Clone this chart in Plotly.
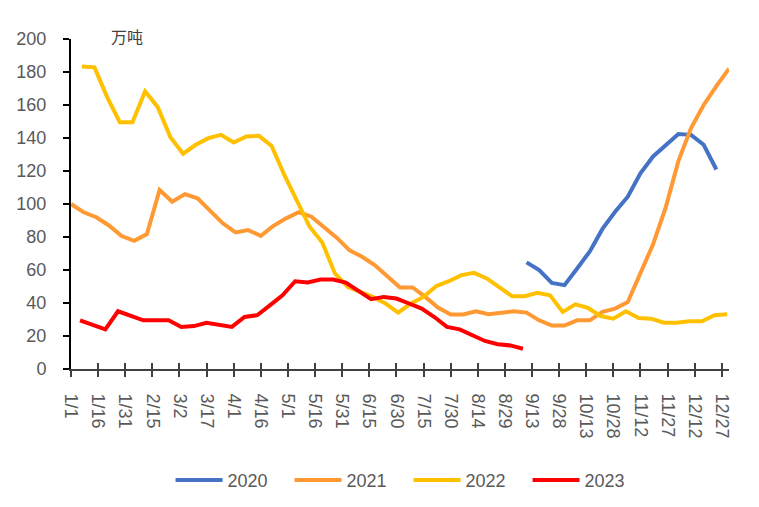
import pandas as pd
import plotly.graph_objects as go

# ---------------- data ----------------
TICK_LABELS = ["1/1", "1/16", "1/31", "2/15", "3/2", "3/17", "4/1", "4/16", "5/1",
               "5/16", "5/31", "6/15", "6/30", "7/15", "7/30", "8/14", "8/29",
               "9/13", "9/28", "10/13", "10/28", "11/12", "11/27", "12/12", "12/27"]

SERIES_NAMES = ["2020", "2021", "2022", "2023"]

# first weekly observation (month/day) of each series
START_2020 = "9/10"
START_2021 = "1/1"
START_2022 = "1/7"
START_2023 = "1/6"

VALUES_2020 = [64.6, 59.9, 52.2, 50.8, 60.9, 71.3, 84.9, 95.3, 104.4, 118.6,
               128.8, 135.9, 142.4, 141.9, 135.9, 120.9]

VALUES_2021 = [100, 95, 92, 87, 80.6, 77.7, 81.8, 108.5, 101.4, 106,
               103.5, 96, 88.3, 82.8, 84.2, 80.7, 86.8, 91.3, 95, 92.3,
               86.2, 79.6, 72, 68, 63, 56, 49.4, 49.4, 43.7, 37.2,
               33, 33, 35, 33.2, 34, 35, 34.2, 29.5, 26.3, 26.3,
               29.5, 29.5, 34.6, 36.6, 40.6, 58.4, 75.6, 98, 126, 146,
               160, 171.5, 182]

VALUES_2022 = [183.4, 182.8, 164.8, 149.6, 149.6, 168.3, 158.7, 140.5, 130.5, 135.9,
               139.9, 141.9, 137.3, 140.9, 141.3, 135.2, 117.6, 101.4, 86.2, 76.7,
               57.9, 49.8, 46.7, 43.7, 39.7, 34.2, 39.7, 43.7, 50.2, 53.2,
               56.9, 58.3, 54.9, 49.8, 44.1, 44.1, 46.2, 44.7, 34.6, 39.2,
               37, 32.1, 30.5, 35, 30.9, 30.5, 28.1, 28.1, 28.9, 28.9,
               32.6, 33.2]

VALUES_2023 = [29.5, 27, 24, 35, 32, 29.5, 29.5, 29.5, 25.5, 26,
               28, 27, 25.5, 31.5, 32.6, 38.6, 44.7, 53.2, 52.4, 54.2,
               54.2, 52.4, 47.3, 42.3, 43.7, 42.7, 39.7, 36.6, 31.5, 25.5,
               24, 20.8, 17, 15, 14.3, 12.3]

COLORS = ["#4472C4", "#FF9933", "#FFC000", "#FF0000"]

AXIS_YEAR = 2021  # common (non-leap) calendar used for the month/day axis


def md(s):
    return pd.Timestamp(f"{AXIS_YEAR}/{s}")


def weekly(start, values):
    return pd.date_range(md(start), periods=len(values), freq="7D")


series = [
    (SERIES_NAMES[0], START_2020, VALUES_2020),
    (SERIES_NAMES[1], START_2021, VALUES_2021),
    (SERIES_NAMES[2], START_2022, VALUES_2022),
    (SERIES_NAMES[3], START_2023, VALUES_2023),
]

tick_vals = [md(t) for t in TICK_LABELS]
x_range = [md("1/1"), md("12/31")]

fig = go.Figure()
for (name, start, vals), color in zip(series, COLORS):
    fig.add_trace(go.Scatter(
        x=weekly(start, vals), y=vals, name=name, mode="lines",
        line=dict(color=color, width=4),
        hoverinfo="x+y+name",
    ))

# helper (empty) trace so the overlaid axis carrying the inner half of the cross ticks is drawn
fig.add_trace(go.Scatter(x=tick_vals, y=[None] * len(tick_vals), xaxis="x2",
                         mode="lines", showlegend=False, hoverinfo="skip"))

FONT = "Liberation Sans"
GRAY = "#595959"

fig.update_layout(
    width=759, height=507,
    margin=dict(l=63, r=38, t=30.5, b=146.4, pad=0),
    paper_bgcolor="white", plot_bgcolor="white",
    font=dict(family=FONT, size=18, color=GRAY),
    showlegend=True,
    legend=dict(orientation="h", x=0.513, xanchor="center", y=-0.3375, yanchor="middle",
                font=dict(family=FONT, size=18, color=GRAY),
                entrywidth=57, itemwidth=47, bgcolor="rgba(0,0,0,0)"),
    xaxis=dict(
        type="date", automargin=False,
        range=x_range,
        tickmode="array", tickvals=tick_vals, ticktext=TICK_LABELS,
        tickangle=90, ticks="outside", ticklen=6, tickwidth=1.5, tickcolor="#404040",
        ticklabelstandoff=13,
        showline=True, linecolor="#404040", linewidth=2,
        showgrid=False, zeroline=False,
        tickfont=dict(family=FONT, size=18, color=GRAY),
    ),
    xaxis2=dict(
        type="date", overlaying="x", anchor="y", side="bottom", automargin=False,
        range=x_range,
        tickmode="array", tickvals=tick_vals,
        ticks="inside", ticklen=6, tickwidth=1.5, tickcolor="#404040",
        showticklabels=False, showline=False, showgrid=False, zeroline=False,
    ),
    yaxis=dict(
        range=[0, 200], tick0=0, dtick=20, automargin=False,
        ticks="outside", ticklen=6, tickwidth=1.5, tickcolor="#000000",
        ticklabelstandoff=13,
        showline=True, linecolor="#000000", linewidth=2,
        showgrid=False, zeroline=False,
        tickfont=dict(family=FONT, size=18, color=GRAY),
    ),
    annotations=[dict(
        text="万吨", xref="paper", yref="paper", x=0.0853, y=1.01,
        xanchor="center", yanchor="middle", showarrow=False,
        font=dict(family="Noto Sans CJK SC", size=16, color="#404040"),
    )],
)

fig.write_html("out.html")
